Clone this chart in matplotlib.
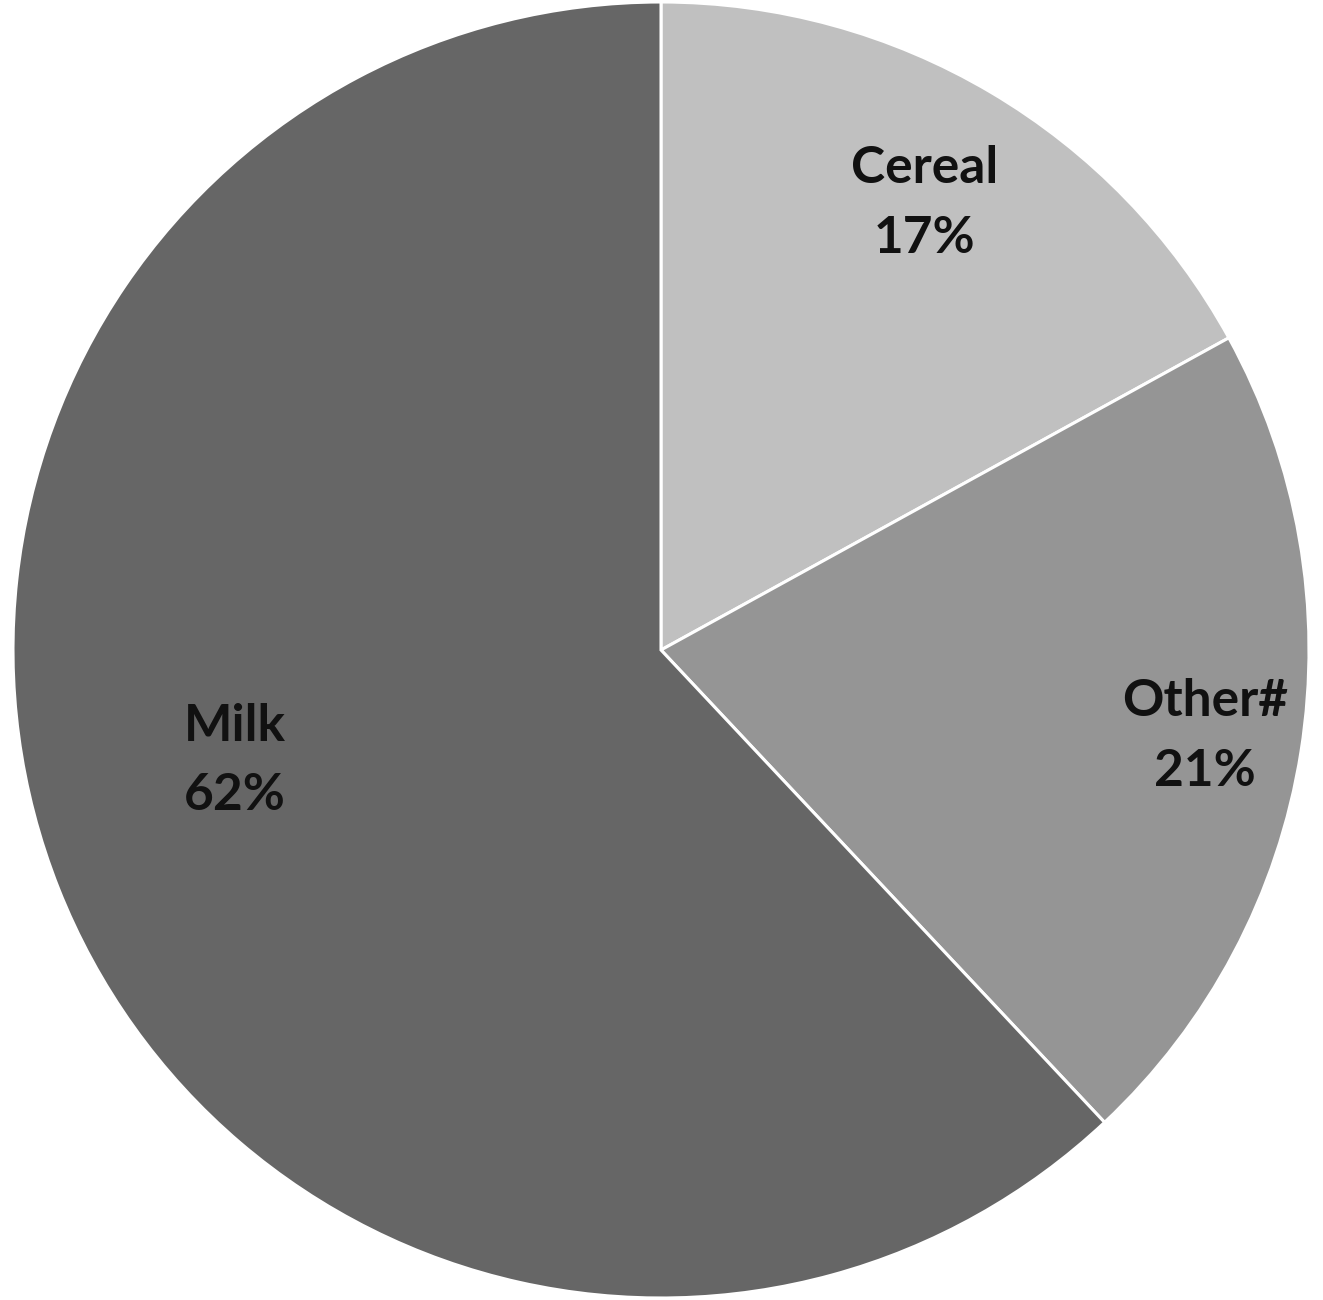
import numpy as np
import matplotlib.pyplot as plt

labels = ['Cereal', 'Other#', 'Milk']
shares = [17, 21, 62]
colors = ['#c0c0c0', '#959595', '#666666']

fig = plt.figure(figsize=(13.23, 13.0), dpi=100)
ax = fig.add_axes([0, 0, 1, 1])

wedges, _ = ax.pie(shares, colors=colors, startangle=90, counterclock=False,
                   radius=1.0, wedgeprops=dict(edgecolor='white', linewidth=2.2))

# pie centre at about (661, 650) px, radius about 648 px
scale = 648.0
ax.set_xlim(-661 / scale, (1323 - 661) / scale)
ax.set_ylim(-(1300 - 650) / scale, 650 / scale)
ax.set_aspect('equal')
ax.axis('off')

label_r = [0.80, 0.85, 0.68]
angle_tweak = [0, 0, -7]
for w, lab, val, r, tw in zip(wedges, labels, shares, label_r, angle_tweak):
    mid = np.deg2rad((w.theta1 + w.theta2) / 2 + tw)
    ax.text(r * np.cos(mid), r * np.sin(mid), f'{lab}\n{val}%',
            ha='center', va='center', fontsize=37, fontweight='bold',
            family='Lato', color='#111111', linespacing=1.6)

fig.savefig('out.png', dpi=100)
